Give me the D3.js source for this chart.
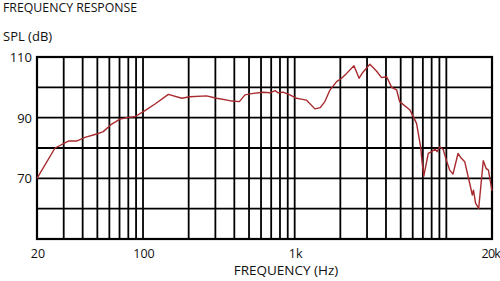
<!DOCTYPE html>
<html>
<head>
<meta charset="utf-8">
<script src="https://cdn.jsdelivr.net/npm/d3@7"></script>
<style>
  html, body { margin: 0; padding: 0; background: #fff; }
  svg text { font-family: "Open Sans", "Noto Sans", sans-serif; fill: #111; }
</style>
</head>
<body>
<div id="chart"></div>
<script>
const width = 500, height = 281;

// response curve (Hz, dB SPL)
const freqs = [20, 26.3, 32.2, 36.5, 41.4, 49.5, 54.7, 62.2, 70.5, 80, 88.4, 103, 120,
  147, 180, 204, 262, 306, 374, 432, 470, 534, 620, 686, 744, 775, 838, 930, 1030,
  1084, 1194, 1360, 1474, 1582, 1708, 1890, 2038, 2200, 2460, 2660, 2820, 3130, 3460,
  3740, 4040, 4360, 4700, 4920, 5760, 6360, 6770, 6900, 7100, 7600, 8000, 8420, 8700,
  9040, 9520, 10000, 10520, 11060, 11940, 12560, 13220, 14260, 14840, 15100, 15580,
  16340, 17520, 18280, 18940, 20000];
const spl = [70, 80, 82.3, 82.3, 83.5, 84.6, 85.4, 87.9, 89.5, 90.1, 90.3, 92.3, 94.5,
  97.7, 96.4, 96.9, 97.2, 96.4, 95.6, 95.3, 97.5, 98, 98.4, 98.2, 98.9, 98.2, 98.4, 97.5, 96.4,
  96.2, 95.8, 92.9, 93.3, 95.3, 99.1, 101.9, 103, 104.6, 107.1, 103, 105, 107.6, 105.4,
  103.2, 103.5, 100, 99.2, 95.3, 92.5, 88.1, 80.4, 76, 70.7, 78.2, 78.8, 79.6, 78.8,
  80.4, 79.6, 76, 72.7, 71.4, 78.2, 76.6, 75.5, 68.3, 64.5, 66.1, 61.8,
  60.1, 75.8, 73.3, 72.7, 65.9];

const yTicks = [110, 90, 70];
const yGrid = [110, 100, 90, 80, 70, 60, 50];
const xLabelFreqs = [20, 100, 1000, 20000];
const xLabelText = ["20", "100", "1k", "20k"];

const margin = {left: 37, right: 8, top: 57, bottom: 42};

const svg = d3.select("#chart").append("svg")
  .attr("width", width).attr("height", height);

const x = d3.scaleLog().domain([20, 20000]).range([margin.left, width - margin.right]);
const y = d3.scaleLinear().domain([50, 110]).range([height - margin.bottom, margin.top]);

// titles
svg.append("text").attr("x", 3).attr("y", 12).attr("font-size", 12.3).text("FREQUENCY RESPONSE");
svg.append("text").attr("x", 3).attr("y", 41).attr("font-size", 13).text("SPL (dB)");

// grid
const grid = svg.append("g").attr("stroke", "#000").attr("stroke-width", 1.8);
grid.selectAll("line.v").data(x.ticks()).enter().append("line")
  .attr("x1", d => x(d)).attr("x2", d => x(d))
  .attr("y1", y(110)).attr("y2", y(50));
grid.selectAll("line.h").data(yGrid).enter().append("line")
  .attr("x1", x(20)).attr("x2", x(20000))
  .attr("y1", d => y(d)).attr("y2", d => y(d));
svg.append("rect")
  .attr("x", x(20)).attr("y", y(110))
  .attr("width", x(20000) - x(20)).attr("height", y(50) - y(110))
  .attr("fill", "none").attr("stroke", "#000").attr("stroke-width", 2.2);

// y labels
svg.selectAll("text.yl").data(yTicks).enter().append("text")
  .attr("x", 32).attr("y", d => y(d) + 5)
  .attr("text-anchor", "end").attr("font-size", 13)
  .text(d => d);

// x labels
svg.selectAll("text.xl").data(xLabelFreqs).enter().append("text")
  .attr("x", (d, i) => i === xLabelFreqs.length - 1 ? x(d) + 8 : x(d) + 1)
  .attr("y", 258)
  .attr("text-anchor", (d, i) => i === xLabelFreqs.length - 1 ? "end" : "middle")
  .attr("font-size", 12.5)
  .attr("letter-spacing", (d, i) => i === xLabelFreqs.length - 1 ? -0.8 : 0)
  .text((d, i) => xLabelText[i]);

svg.append("text").attr("x", 286).attr("y", 275)
  .attr("text-anchor", "middle").attr("font-size", 13.5)
  .text("FREQUENCY (Hz)");

// curve
const line = d3.line().x(d => x(d[0])).y(d => y(d[1]));
svg.append("path")
  .datum(freqs.map((f, i) => [f, spl[i]]))
  .attr("d", line)
  .attr("fill", "none")
  .attr("stroke", "#a82a2e")
  .attr("stroke-width", 1.4)
  .attr("stroke-linejoin", "round");
</script>
</body>
</html>
